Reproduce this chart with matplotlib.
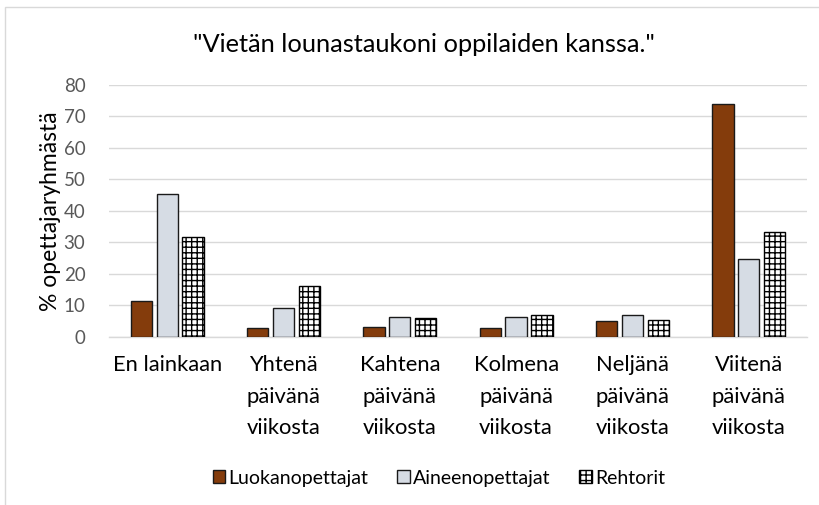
import numpy as np
import matplotlib
matplotlib.use('Agg')
import matplotlib.pyplot as plt
from matplotlib.patches import Rectangle

plt.rcParams['font.family'] = ['Lato', 'DejaVu Sans']
plt.rcParams['hatch.linewidth'] = 1.0

kategoriat = ['En lainkaan', 'Yhtenä\npäivänä\nviikosta', 'Kahtena\npäivänä\nviikosta',
              'Kolmena\npäivänä\nviikosta', 'Neljänä\npäivänä\nviikosta', 'Viitenä\npäivänä\nviikosta']
luokanopettajat = [11.4, 3.0, 3.3, 2.7, 5.1, 74.1]
aineenopettajat = [45.3, 9.2, 6.4, 6.4, 7.1, 24.8]
rehtorit = [31.7, 16.3, 6.1, 7.0, 5.4, 33.2]
yticks = [0, 10, 20, 30, 40, 50, 60, 70, 80]

fig = plt.figure(figsize=(8.2, 5.05), dpi=100)
ax = fig.add_axes([0.133, 0.3327, 0.851, 0.499])

x = np.arange(len(kategoriat))
w = 0.183
d = 0.222
ax.bar(x - d, luokanopettajat, w, color='#843C0C', edgecolor='#1a1a1a', lw=1, label='Luokanopettajat', zorder=3)
ax.bar(x, aineenopettajat, w, color='#D6DCE4', edgecolor='#1a1a1a', lw=1, label='Aineenopettajat', zorder=3)
ax.bar(x + d, rehtorit, w, color='white', edgecolor='black', hatch='+++', lw=1, label='Rehtorit', zorder=3)

ax.set_xlim(-0.5, len(kategoriat) - 0.5)
ax.set_ylim(0, 80)
ax.set_yticks(yticks)
ax.set_xticks(x)
ax.set_xticklabels(kategoriat, fontsize=15.8, va='top', ha='center', linespacing=1.72)
ax.tick_params(axis='y', labelsize=13.5, colors='#595959', length=0, pad=17)
ax.tick_params(axis='x', length=0, pad=13, colors='black')
ax.grid(axis='y', color='#D9D9D9', lw=1, zorder=0)
for s in ['top', 'right', 'left']:
    ax.spines[s].set_visible(False)
ax.spines['bottom'].set_color('#D9D9D9')
ax.spines['bottom'].set_linewidth(1)

ax.set_ylabel('% opettajaryhmästä', fontsize=16.5, labelpad=2)
fig.text(0.517, 0.911, '"Vietän lounastaukoni oppilaiden kanssa."', fontsize=18.3, ha='center', va='center')

leg = fig.legend(loc='center', bbox_to_anchor=(0.535, 0.053), ncol=3, frameon=False, fontsize=14,
                 handlelength=0.65, handleheight=0.65, handletextpad=0.15, columnspacing=1.5)

fig.patches.append(Rectangle((0.006, -0.1), 1.2, 1.086, transform=fig.transFigure,
                             fill=False, edgecolor='#D9D9D9', lw=1))

fig.savefig('out.png', dpi=100)
